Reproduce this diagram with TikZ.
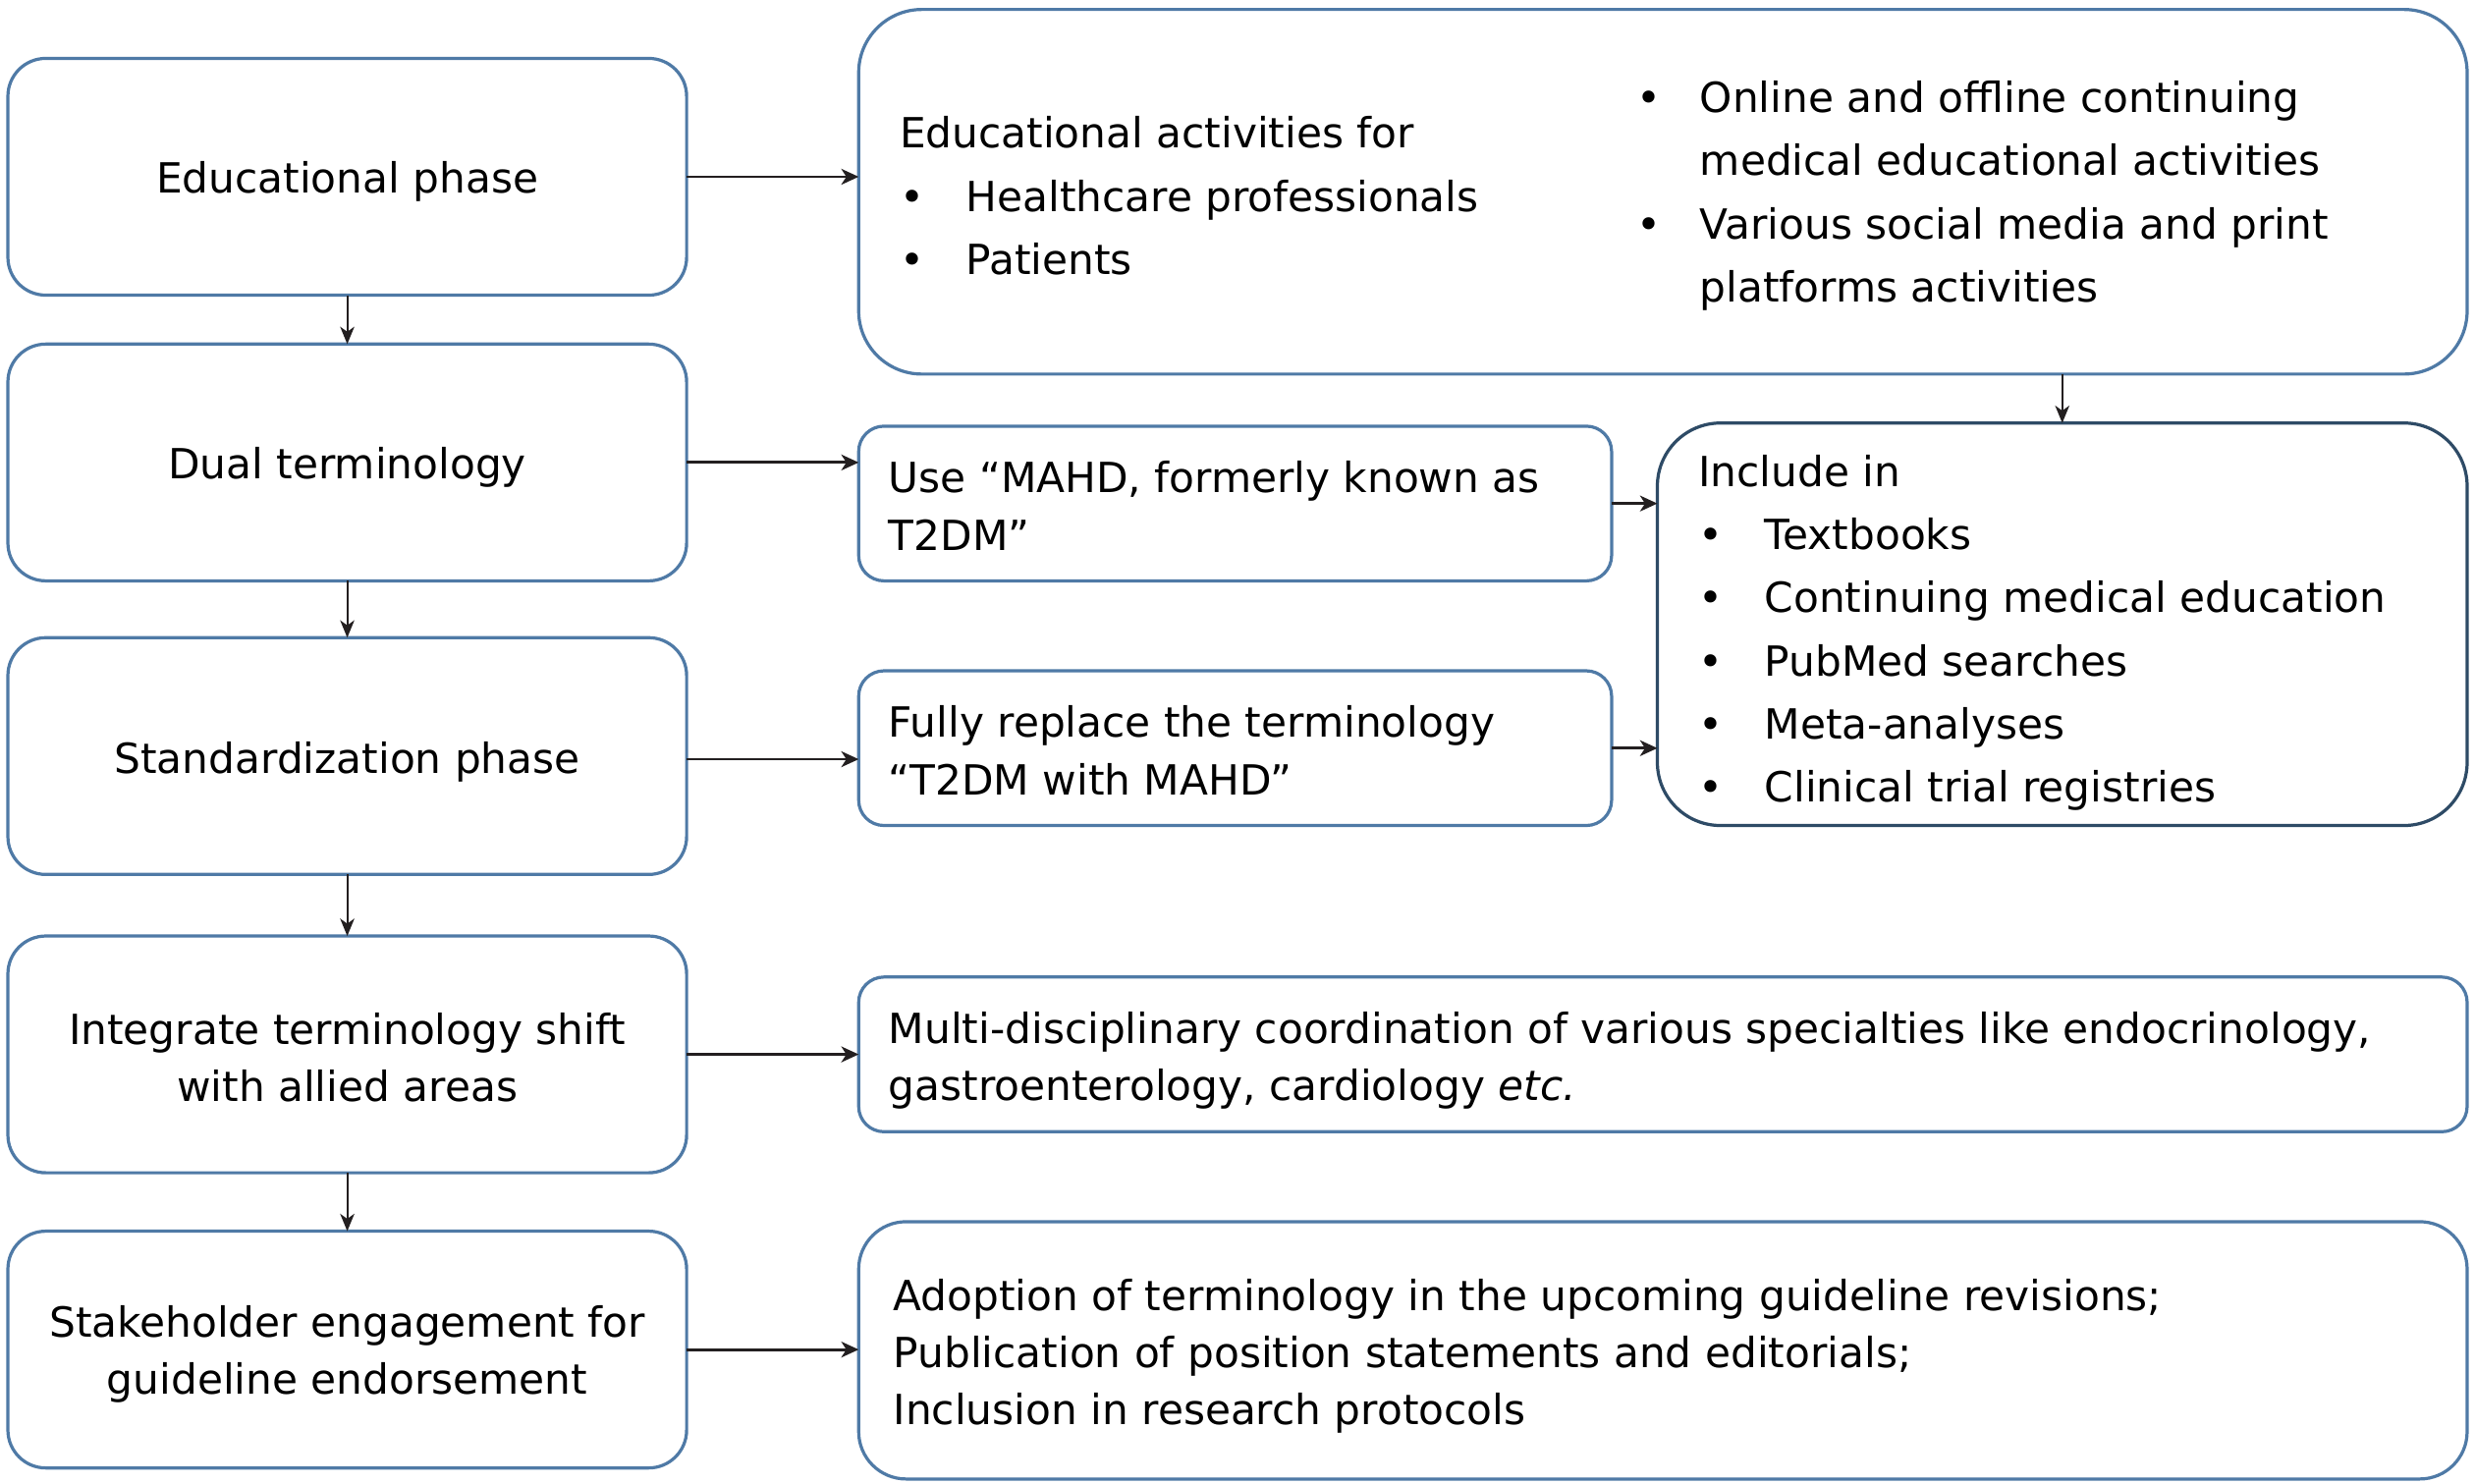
\documentclass[tikz,border=0pt]{standalone}
\usepackage{fontspec}
\setmainfont{DejaVu Sans}
\usetikzlibrary{arrows.meta}
\definecolor{boxblue}{HTML}{4F7AA6}
\definecolor{boxdark}{HTML}{2E4B66}
\definecolor{arrowc}{HTML}{231F20}
\begin{document}
\begin{tikzpicture}[x=0.5pt,y=-0.5pt,
  every node/.style={inner sep=0pt, outer sep=0pt, font=\fontsize{13.15}{18}\selectfont, text=black},
  lbox/.style={draw=boxblue, line width=1pt, rounded corners=12pt, minimum width=215pt, minimum height=75pt},
  ltext/.style={align=center},
  rbox/.style={draw=boxblue, line width=1pt},
  txt/.style={anchor=west, align=left},
  listtxt/.style={anchor=west, align=left, font=\fontsize{13.15}{20}\selectfont},
  harrow/.style={draw=arrowc, line width=0.9pt, -{Stealth[length=5.5pt,width=5pt,inset=1.6pt]}},
  varrow/.style={draw=arrowc, line width=0.6pt, -{Stealth[length=5.5pt,width=4.5pt,inset=1.6pt]}}
]
\useasboundingbox (0,0) rectangle (1568,940);
\newcommand{\bul}{\makebox[21pt][l]{\textbullet}}
\newcommand{\lbul}{\llap{\makebox[20pt][l]{\textbullet}}}

% left column
\node[lbox] (b1) at (220,112) {};
\node[lbox] (b2) at (220,293) {};
\node[lbox] (b3) at (220,479) {};
\node[lbox] (b4) at (220,668) {};
\node[lbox] (b5) at (220,855) {};
\node[ltext] (l1) at (220,115) {Educational phase};
\node[ltext] (l2) at (220,296) {Dual terminology};
\node[ltext] (l3) at (220,483) {Standardization phase};
\node[ltext] (l4) at (220,670) {Integrate terminology shift\\with allied areas};
\node[ltext] (l5) at (220,858) {Stakeholder engagement for\\guideline endorsement};

% right boxes
\node[rbox, rounded corners=20pt, minimum width=509.5pt, minimum height=115.5pt] (r1) at (1053.5,121.5) {};
\node[rbox, rounded corners=8pt, minimum width=238.5pt, minimum height=49pt] (r2) at (782.5,319) {};
\node[rbox, rounded corners=8pt, minimum width=238.5pt, minimum height=49pt] (r3) at (782.5,474) {};
\node[rbox, draw=boxdark, rounded corners=20pt, minimum width=256.5pt, minimum height=127.5pt] (r4) at (1306.5,395.5) {};
\node[rbox, rounded corners=8pt, minimum width=509.5pt, minimum height=49pt] (r5) at (1053.5,668) {};
\node[rbox, rounded corners=15pt, minimum width=509.5pt, minimum height=81.5pt] (r6) at (1053.5,855.5) {};

% texts in right boxes
\node[listtxt] (t1a) at (570,124) {Educational activities for\\\bul Healthcare professionals\\\bul Patients};
\node[listtxt] (t1b) at (1077,124) {\lbul Online and offline continuing\\medical educational activities\\\lbul Various social media and print\\platforms activities};
\node[txt, font=\fontsize{13.15}{18.5}\selectfont] (t2) at (563,320.5) {Use “MAHD, formerly known as\\T2DM”};
\node[txt, font=\fontsize{13.15}{18.5}\selectfont] (t3) at (563,475.5) {Fully replace the terminology\\“T2DM with MAHD”};
\node[listtxt] (t4) at (1076,401) {Include in\\\bul Textbooks\\\bul Continuing medical education\\\bul PubMed searches\\\bul Meta-analyses\\\bul Clinical trial registries};
\node[txt] (t5) at (563,672) {Multi-disciplinary coordination of various specialties like endocrinology,\\gastroenterology, cardiology \emph{etc.}};
\node[txt] (t6) at (566,859) {Adoption of terminology in the upcoming guideline revisions;\\Publication of position statements and editorials;\\Inclusion in research protocols};

% vertical arrows
\draw[varrow] (b1.south) -- (b2.north);
\draw[varrow] (b2.south) -- (b3.north);
\draw[varrow] (b3.south) -- (b4.north);
\draw[varrow] (b4.south) -- (b5.north);
\draw[varrow] (r4.north |- r1.south) -- (r4.north);

% horizontal arrows
\draw[harrow] (b1.east) -- (b1.east -| r1.west);
\draw[harrow] (b2.east) -- (b2.east -| r2.west);
\draw[harrow] ([yshift=-1pt]b3.east) -- ([yshift=-1pt]b3.east -| r3.west);
\draw[harrow] (b4.east) -- (b4.east -| r5.west);
\draw[harrow] (b5.east) -- (b5.east -| r6.west);
\draw[harrow] (r2.east) -- (r2.east -| r4.west);
\draw[harrow] (r3.east) -- (r3.east -| r4.west);
\end{tikzpicture}
\end{document}
